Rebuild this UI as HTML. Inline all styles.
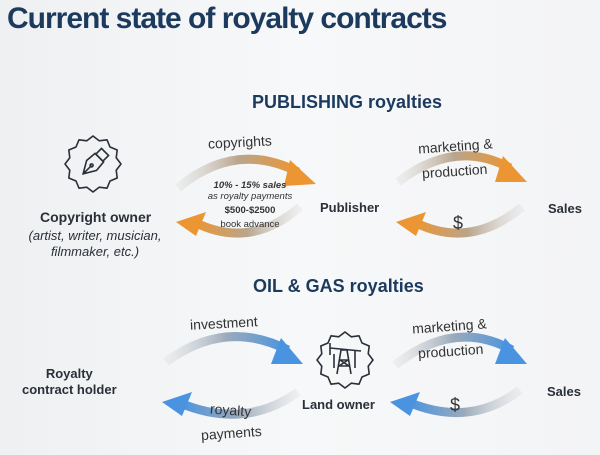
<!DOCTYPE html>
<html><head><style>
body{margin:0;width:600px;height:455px;overflow:hidden;background:linear-gradient(90deg,#eef0f2,#f7f8f9 50%,#f3f4f6);font-family:"Liberation Sans",sans-serif}
.t{position:absolute;white-space:nowrap}
</style></head><body>
<svg width="600" height="455" style="position:absolute;left:0;top:0">
<defs>
<linearGradient id="oR" x1="0" x2="1"><stop offset="0" stop-color="#d8d8d8" stop-opacity=".3"/><stop offset=".5" stop-color="#b9a58c"/><stop offset="1" stop-color="#ec9533"/></linearGradient>
<linearGradient id="oL" x1="1" x2="0"><stop offset="0" stop-color="#d8d8d8" stop-opacity=".3"/><stop offset=".5" stop-color="#b9a58c"/><stop offset="1" stop-color="#ec9533"/></linearGradient>
<linearGradient id="bR" x1="0" x2="1"><stop offset="0" stop-color="#d8d8d8" stop-opacity=".3"/><stop offset=".5" stop-color="#9aaabb"/><stop offset="1" stop-color="#4a93e0"/></linearGradient>
<linearGradient id="bL" x1="1" x2="0"><stop offset="0" stop-color="#d8d8d8" stop-opacity=".3"/><stop offset=".5" stop-color="#9aaabb"/><stop offset="1" stop-color="#4a93e0"/></linearGradient>
<polygon id="star" points="28,0 23.2,6.2 24.2,14 17,17 14,24.2 6.2,23.2 0,28 -6.2,23.2 -14,24.2 -17,17 -24.2,14 -23.2,6.2 -28,0 -23.2,-6.2 -24.2,-14 -17,-17 -14,-24.2 -6.2,-23.2 0,-28 6.2,-23.2 14,-24.2 17,-17 24.2,-14 23.2,-6.2" fill="none" stroke="#2a2f38" stroke-width="1.6" stroke-linejoin="round"/>
</defs>
<path d="M178,188 Q235,140 298,172" fill="none" stroke="url(#oR)" stroke-width="9"/>
<polygon points="290,160 316,184 284,186" fill="#ec9533"/>
<path d="M300,207 Q250,250 194,222" fill="none" stroke="url(#oL)" stroke-width="9"/>
<polygon points="176,222 206,212 196,236" fill="#ec9533"/>
<path d="M398,182 Q455,138 510,168" fill="none" stroke="url(#oR)" stroke-width="9"/>
<polygon points="503,156 527,182 495,182" fill="#ec9533"/>
<path d="M522,207 Q470,250 414,222" fill="none" stroke="url(#oL)" stroke-width="9"/>
<polygon points="396,222 426,212 416,236" fill="#ec9533"/>
<path d="M166,362 Q225,318 288,350" fill="none" stroke="url(#bR)" stroke-width="9"/>
<polygon points="281,338 303,364 271,364" fill="#4a93e0"/>
<path d="M298,392 Q245,430 180,403" fill="none" stroke="url(#bL)" stroke-width="9"/>
<polygon points="162,402 192,392 182,416" fill="#4a93e0"/>
<path d="M395,365 Q455,318 512,350" fill="none" stroke="url(#bR)" stroke-width="9"/>
<polygon points="505,338 527,364 495,364" fill="#4a93e0"/>
<path d="M520,390 Q470,428 408,402" fill="none" stroke="url(#bL)" stroke-width="9"/>
<polygon points="390,402 420,392 410,416" fill="#4a93e0"/>
<g transform="translate(93,164)"><use href="#star"/>
<g transform="rotate(45)" fill="none" stroke="#2a2f38" stroke-width="1.6"><rect x="-5" y="-17" width="10" height="8"/><path d="M-6,-9 L6,-9 L7,2 L0,14 L-7,2 Z M0,14 L0,2"/><circle cx="0" cy="2" r="1.5"/></g></g>
<g transform="translate(345,360)"><use href="#star"/>
<g fill="none" stroke="#2a2f38" stroke-width="1.6"><path d="M-15,-12 L16,-9 M-15,-17 L-15,-5 M10,-10 L10,8 M-8,14 L-4,-10 L2,-10 L6,14 M-6,6 L4,6 M-5,0 L3,0 M-6,6 L3,0 M-5,0 L4,6 M-11,-6 L-11,8"/></g></g>
</svg>
<div class="t" style="left:7px;top:2px;font-size:30px;font-weight:bold;color:#1c3a5e;letter-spacing:-1px">Current state of royalty contracts</div>
<div class="t" style="left:252px;top:92px;font-size:18px;font-weight:bold;color:#1c3a5e">PUBLISHING royalties</div>
<div class="t" style="left:253px;top:276px;font-size:18px;font-weight:bold;color:#1c3a5e">OIL &amp; GAS royalties</div>
<div class="t" style="left:40px;top:209px;font-size:14px;font-weight:bold;color:#2a2f38">Copyright owner</div>
<div class="t" style="left:0px;top:228px;width:190px;text-align:center;font-size:13px;font-style:italic;color:#2a2f38;line-height:16px;white-space:normal">(artist, writer, musician, filmmaker, etc.)</div>
<div class="t" style="left:208px;top:134px;font-size:14px;color:#333;transform:rotate(-3deg)">copyrights</div>
<div class="t" style="left:200px;top:180px;width:100px;text-align:center;font-size:9.5px;color:#333;line-height:11px"><b><i>10% - 15% sales</i></b><br><i>as royalty payments</i><br><b style="line-height:17px">$500-$2500</b><br>book advance</div>
<div class="t" style="left:320px;top:200px;font-size:13px;font-weight:bold;color:#2a2f38">Publisher</div>
<div class="t" style="left:548px;top:201px;font-size:13px;font-weight:bold;color:#2a2f38">Sales</div>
<div class="t" style="left:418px;top:138px;font-size:14px;color:#333;transform:rotate(-4deg)">marketing &amp;</div>
<div class="t" style="left:422px;top:163px;font-size:14px;color:#333;transform:rotate(-4deg)">production</div>
<div class="t" style="left:453px;top:213px;font-size:18px;color:#333">$</div>
<div class="t" style="left:190px;top:315px;font-size:14px;color:#333;transform:rotate(-3deg)">investment</div>
<div class="t" style="left:22px;top:366px;font-size:13px;font-weight:bold;color:#2a2f38;text-align:center;line-height:16px">Royalty<br>contract holder</div>
<div class="t" style="left:302px;top:397px;font-size:13px;font-weight:bold;color:#2a2f38">Land owner</div>
<div class="t" style="left:210px;top:402px;font-size:14px;color:#333;transform:rotate(4deg)">royalty</div>
<div class="t" style="left:201px;top:425px;font-size:14px;color:#333;transform:rotate(-4deg)">payments</div>
<div class="t" style="left:412px;top:318px;font-size:14px;color:#333;transform:rotate(-4deg)">marketing &amp;</div>
<div class="t" style="left:418px;top:343px;font-size:14px;color:#333;transform:rotate(-4deg)">production</div>
<div class="t" style="left:547px;top:384px;font-size:13px;font-weight:bold;color:#2a2f38">Sales</div>
<div class="t" style="left:450px;top:395px;font-size:18px;color:#333">$</div>
</body></html>
